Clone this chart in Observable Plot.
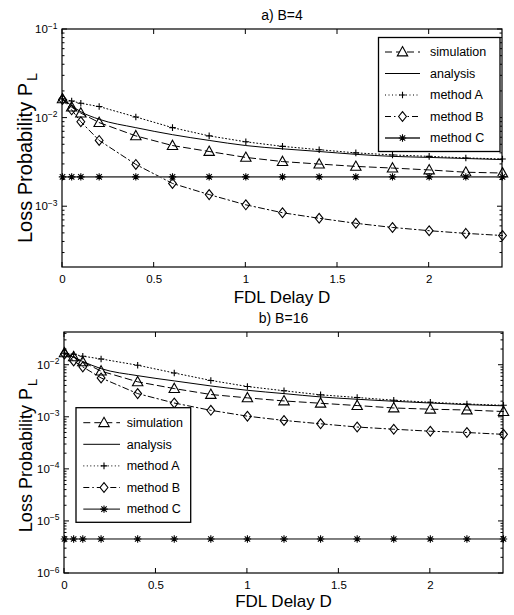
<!DOCTYPE html>
<html><head><meta charset="utf-8">
<script src="https://cdn.jsdelivr.net/npm/d3@7"></script>
<script src="https://cdn.jsdelivr.net/npm/@observablehq/plot@0.6"></script>
<style>
body{margin:0;background:#fff;width:514px;}
#chart svg{display:block;font-family:"Liberation Sans",Arial,Helvetica,sans-serif;background:#fff;overflow:visible;}
</style></head><body><div id="chart"></div>
<script>
// ---------- data ----------
const delays = [0, 0.05, 0.1, 0.2, 0.4, 0.6, 0.8, 1.0, 1.2, 1.4, 1.6, 1.8, 2.0, 2.2, 2.4];
const seriesNames = ["simulation", "analysis", "method A", "method B", "method C"];
const xTicks = [0, 0.5, 1, 1.5, 2];
const xDomain = [0, 2.4];
const xLabel = "FDL Delay D";
const yLabelMain = "Loss Probability P";
const yLabelSub = "L";

// (a) B=4
const titleA = "a) B=4";
const yDomainA = [2.06e-4, 1e-1];
const yTicksA = [1e-3, 1e-2, 1e-1];
const simulationA = [0.0165, 0.0133, 0.0114, 0.0089, 0.0063, 0.0049, 0.0042, 0.0036, 0.00323, 0.00303, 0.00285, 0.00273, 0.0026, 0.00245, 0.0024];
const analysisA   = [0.0165, 0.0138, 0.0118, 0.0097, 0.0078, 0.0065, 0.0056, 0.0049, 0.0045, 0.0042, 0.0039, 0.0037, 0.0036, 0.0035, 0.0034];
const methodA_A   = [0.0165, 0.0156, 0.0147, 0.0135, 0.0103, 0.0078, 0.0063, 0.0054, 0.0048, 0.0044, 0.00405, 0.00384, 0.0037, 0.00355, 0.00346];
const methodB_A   = [0.0162, 0.0124, 0.0091, 0.0056, 0.0030, 0.00183, 0.00137, 0.00105, 0.000855, 0.00074, 0.00065, 0.000583, 0.000536, 0.0005, 0.000473];
const methodC_A   = [0.00217, 0.00217, 0.00217, 0.00217, 0.00217, 0.00217, 0.00217, 0.00217, 0.00217, 0.00217, 0.00217, 0.00217, 0.00217, 0.00217, 0.00217];

// (b) B=16
const titleB = "b) B=16";
const yDomainB = [1e-6, 0.0425];
const yTicksB = [1e-6, 1e-5, 1e-4, 1e-3, 1e-2];
const simulationB = [0.0173, 0.0145, 0.0116, 0.0077, 0.0048, 0.00356, 0.00274, 0.00236, 0.00206, 0.00186, 0.00168, 0.00151, 0.00143, 0.00138, 0.00129];
const analysisB   = [0.017, 0.0142, 0.0118, 0.0086, 0.0063, 0.0050, 0.0040, 0.0033, 0.00285, 0.00246, 0.00222, 0.00203, 0.00188, 0.00175, 0.00166];
const methodA_B   = [0.017, 0.0162, 0.0149, 0.0132, 0.0100, 0.0071, 0.0051, 0.0039, 0.00323, 0.0027, 0.0024, 0.00213, 0.00194, 0.0018, 0.0017];
const methodB_B   = [0.0165, 0.0121, 0.0093, 0.0057, 0.00285, 0.00188, 0.00136, 0.00105, 0.00087, 0.00075, 0.00065, 0.00059, 0.00054, 0.00051, 0.00047];
const methodC_B   = [4.6e-6, 4.6e-6, 4.6e-6, 4.6e-6, 4.6e-6, 4.6e-6, 4.6e-6, 4.6e-6, 4.6e-6, 4.6e-6, 4.6e-6, 4.6e-6, 4.6e-6, 4.6e-6, 4.6e-6];

// ---------- styles ----------
const symTriangle = {draw(c){ c.moveTo(0,-5.4); c.lineTo(5.2,3.9); c.lineTo(-5.2,3.9); c.closePath(); }};
const symDiamond  = {draw(c){ c.moveTo(0,-4.9); c.lineTo(3.9,0); c.lineTo(0,4.9); c.lineTo(-3.9,0); c.closePath(); }};
const symPlus     = {draw(c){ c.moveTo(-3.3,0); c.lineTo(3.3,0); c.moveTo(0,-3.3); c.lineTo(0,3.3); }};
const symStar     = {draw(c){ const a=3.7,b=2.7; c.moveTo(-a,0); c.lineTo(a,0); c.moveTo(0,-a); c.lineTo(0,a); c.moveTo(-b,-b); c.lineTo(b,b); c.moveTo(-b,b); c.lineTo(b,-b); }};
const seriesStyles = [
  {dash: "7,4", symbol: symTriangle, curve: "linear"},
  {dash: null, symbol: null, curve: "monotone-x"},
  {dash: "1,2.5", symbol: symPlus, curve: "linear"},
  {dash: "6,3,1.5,3", symbol: symDiamond, curve: "linear"},
  {dash: null, symbol: symStar, curve: "linear"}
];

function makePanel(cfg) {
  const seriesRows = cfg.series.map(vals => delays.map((d, i) => ({d, v: vals[i]})));
  const marks = [];
  seriesRows.forEach((rows, s) => {
    const st = seriesStyles[s];
    const color = s === 4 ? cfg.cColor : "black";
    const lw = s === 4 ? cfg.cWidth : 1;
    const opts = {x: "d", y: "v", stroke: color, strokeWidth: lw, curve: st.curve};
    if (st.dash) opts.strokeDasharray = st.dash;
    marks.push(Plot.line(rows, opts));
    if (st.symbol) marks.push(Plot.dot(rows, {x: "d", y: "v", symbol: st.symbol, stroke: "black", fill: "none", strokeWidth: 1.1}));
  });
  marks.push(Plot.axisX({ticks: xTicks, tickSize: 0, tickPadding: 7, tickFormat: d => String(d), fontSize: 11.5, label: null}));
  marks.push(Plot.axisY({ticks: cfg.yTicks, tickSize: 0, tickPadding: 5, tickFormat: d => "10^" + Math.round(Math.log10(d)), fontSize: 11.5, label: null}));

  // frame, inward ticks, titles, labels, legend
  marks.push((index, scales, values, dims) => {
    const x = scales.x, y = scales.y;
    const x0 = dims.marginLeft, x1 = dims.width - dims.marginRight;
    const y0 = dims.marginTop, y1 = dims.height - dims.marginBottom;
    const g = d3.create("svg:g");
    const ticks = g.append("g").attr("stroke", "black").attr("stroke-width", 1);
    const seg = (ax, ay, bx, by) => ticks.append("line").attr("x1", ax).attr("y1", ay).attr("x2", bx).attr("y2", by);
    for (const t of xTicks) { const px = x(t); seg(px, y1, px, y1 - 5); seg(px, y0, px, y0 + 5); }
    for (const t of cfg.yTicks) { const py = y(t); seg(x0, py, x0 + 5, py); seg(x1, py, x1 - 5, py); }
    const e0 = Math.floor(Math.log10(cfg.yDomain[0])), e1 = Math.ceil(Math.log10(cfg.yDomain[1]));
    for (let e = e0; e < e1; e++) for (let k = 2; k <= 9; k++) {
      const v = k * Math.pow(10, e);
      if (v <= cfg.yDomain[0] || v >= cfg.yDomain[1]) continue;
      const py = y(v); seg(x0, py, x0 + 2.5, py); seg(x1, py, x1 - 2.5, py);
    }
    g.append("rect").attr("x", x0).attr("y", y0).attr("width", x1 - x0).attr("height", y1 - y0)
      .attr("fill", "none").attr("stroke", "black").attr("stroke-width", 1.2);
    const cx = (x0 + x1) / 2;
    g.append("text").attr("x", cx).attr("y", cfg.titleBaseline).attr("text-anchor", "middle")
      .attr("font-size", 14).text(cfg.title);
    g.append("text").attr("x", cx).attr("y", y1 + cfg.xLabelGap).attr("text-anchor", "middle")
      .attr("font-size", 17).text(xLabel);
    const yl = g.append("text").attr("transform", `translate(${cfg.yLabelX},${cfg.yLabelCY}) rotate(-90)`)
      .attr("text-anchor", "middle").attr("font-size", cfg.yLabelSize);
    yl.append("tspan").text(yLabelMain);
    yl.append("tspan").attr("font-size", "0.72em").attr("dy", "0.4em").attr("dx", "2").text(yLabelSub);
    // legend
    const L = cfg.legend;
    const lg = g.append("g");
    lg.append("rect").attr("x", L.x).attr("y", L.y).attr("width", L.w).attr("height", L.h)
      .attr("fill", "white").attr("stroke", "black").attr("stroke-width", 1.3);
    seriesNames.forEach((name, s) => {
      const st = seriesStyles[s];
      const ry = L.row0 + s * L.step;
      const ln = lg.append("line").attr("x1", L.lx1).attr("x2", L.lx2).attr("y1", ry).attr("y2", ry)
        .attr("stroke", s === 4 ? cfg.cColor : "black").attr("stroke-width", s === 4 ? cfg.cWidth : 1);
      if (st.dash) ln.attr("stroke-dasharray", st.dash);
      if (st.symbol) lg.append("path").attr("d", d3.symbol().type(st.symbol)())
        .attr("transform", `translate(${L.mx},${ry})`).attr("fill", st.symbol === symPlus || st.symbol === symStar ? "none" : "white")
        .attr("stroke", "black").attr("stroke-width", 1.1);
      lg.append("text").attr("x", L.tx).attr("y", ry).attr("dy", "0.35em").attr("text-anchor", "start")
        .attr("font-size", 12.5).text(name);
    });
    return g.node();
  });

  const svg = Plot.plot({
    width: 514, height: cfg.height,
    marginTop: cfg.mt, marginBottom: cfg.mb, marginLeft: cfg.ml, marginRight: cfg.mr,
    style: {fontFamily: '"Liberation Sans", Arial, sans-serif', color: "black", background: "white"},
    x: {domain: xDomain},
    y: {type: "log", domain: cfg.yDomain},
    marks
  });
  d3.select(svg).selectAll('g[aria-label="y-axis tick label"] text').each(function() {
    const t = d3.select(this);
    const m = t.text().match(/^10\^(-?\d+)$/);
    if (!m) return;
    t.text(null);
    t.append("tspan").text("10");
    t.append("tspan").attr("dy", "-0.55em").attr("font-size", "8.5px").text(m[1].replace("-", "\u2212"));
  });
  return svg;
}

const chart = document.getElementById("chart");
chart.append(makePanel({
  title: titleA, height: 305, mt: 29, mb: 38, ml: 62, mr: 12,
  yDomain: yDomainA, yTicks: yTicksA,
  series: [simulationA, analysisA, methodA_A, methodB_A, methodC_A],
  cColor: "#5a5a5a", cWidth: 1.8,
  titleBaseline: 19.5, xLabelGap: 35.5, yLabelX: 31.5, yLabelCY: 158, yLabelSize: 20,
  legend: {x: 378.5, y: 37.5, w: 121.5, h: 114, row0: 52, step: 21.5, lx1: 385, lx2: 420, mx: 402.5, tx: 430}
}));
chart.append(makePanel({
  title: titleB, height: 310, mt: 27, mb: 42, ml: 64, mr: 11,
  yDomain: yDomainB, yTicks: yTicksB,
  series: [simulationB, analysisB, methodA_B, methodB_B, methodC_B],
  cColor: "black", cWidth: 1,
  titleBaseline: 17.7, xLabelGap: 33.5, yLabelX: 31.5, yLabelCY: 150.5, yLabelSize: 18,
  legend: {x: 76, y: 102.7, w: 114.7, h: 114.6, row0: 117.7, step: 21.6, lx1: 83.3, lx2: 120, mx: 104, tx: 126.7}
}));
</script></body></html>
